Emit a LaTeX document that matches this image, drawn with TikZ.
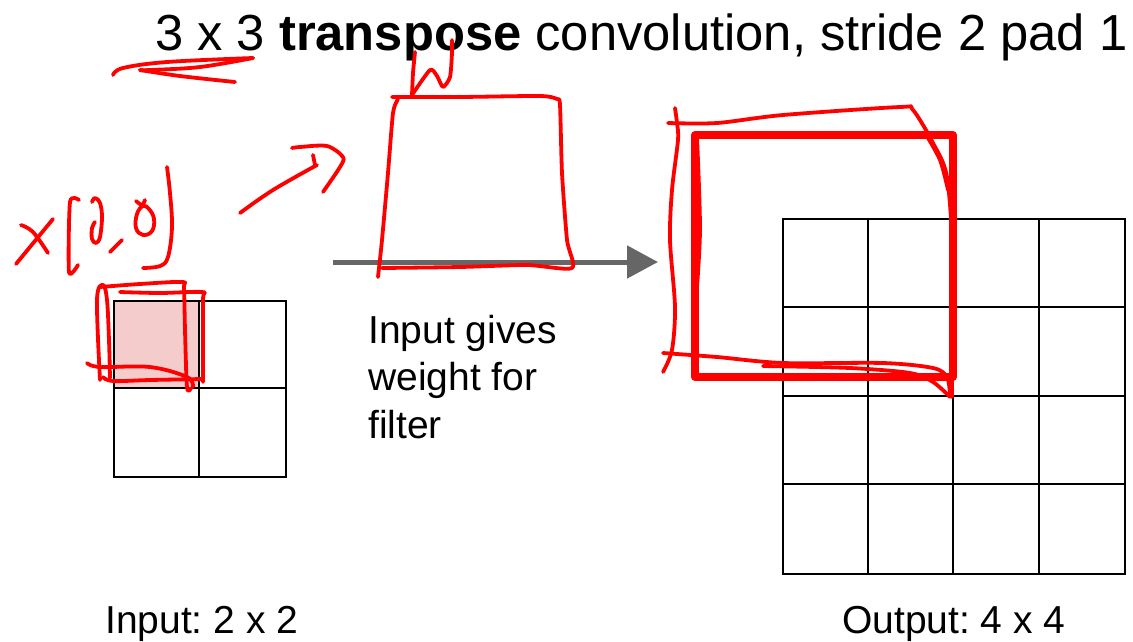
\documentclass[tikz,border=0pt]{standalone}
\usepackage{fontspec}
\setmainfont{Liberation Sans}
\usetikzlibrary{arrows.meta}
\definecolor{pinkfill}{RGB}{244,204,204}
\definecolor{arrowgray}{RGB}{102,102,102}
\frenchspacing
\begin{document}
\begin{tikzpicture}[x=1pt,y=-1pt,
  gridline/.style={draw=black,line width=2pt},
  gridbox/.style={draw=black,line width=2pt,inner sep=0pt,anchor=north west},
  ink/.style={draw=red,line width=3.8pt,line cap=round,line join=round},
  thickink/.style={draw=red,line width=8pt,line join=round},
  lbl/.style={font=\fontsize{39}{47.5}\selectfont,inner sep=0pt,text=black},
  flow/.style={draw=arrowgray,line width=5pt,-{Triangle[length=31pt,width=32pt]}}]
\useasboundingbox[fill=white] (0,0) rectangle (1133,641);

% title
\node[anchor=base west,inner sep=0pt,font=\fontsize{50.7}{60}\selectfont] (title) at (155,50)
  {3 x 3 \textbf{transpose} convolution, stride 2 pad 1};

% input grid 2x2
\fill[pinkfill] (113,300) rectangle (199,387.5);
\node[gridbox,minimum width=172pt,minimum height=176pt] (ingrid) at (113,300) {};
\draw[gridline] (199,300) -- (199,476);
\draw[gridline] (113,387.5) -- (285,387.5);

% output grid 4x4
\node[gridbox,minimum width=342pt,minimum height=355pt] (outgrid) at (782,218) {};
\foreach \i in {1,2,3}{
  \draw[gridline] ({782+85.5*\i},218) -- ({782+85.5*\i},573);
  \draw[gridline] (782,{218+88.75*\i}) -- (1124,{218+88.75*\i});
}

% arrow
\coordinate (astart) at (333,262);
\coordinate (aend) at (658,262);
\draw[flow] (astart) -- (aend);

% labels
\node[lbl,anchor=north west,align=left] (desc) at (368,315) {Input gives\\weight for\\filter};
\node[lbl,anchor=base west] (inlab) at (105,633) {Input: 2 x 2};
\node[lbl,anchor=base west] (outlab) at (842,633) {Output: 4 x 4};

% thick red filter window
\draw[thickink] (695,135) rectangle (953,377);

% handwritten red annotations
% underline under 3 x 3
\draw[ink] plot[smooth,tension=0.6] coordinates {(113,75) (123,68) (167,62) (253,58)};
\draw[ink] plot[smooth,tension=0.6] coordinates {(253,58) (200,67) (150,70) (140,70)};
\draw[ink] plot[smooth,tension=0.6] coordinates {(140,70) (180,76) (235,82)};
% x[0,0]
\draw[ink] (16,264) -- (53,219);
\draw[ink] plot[smooth,tension=0.6] coordinates {(21,225) (33,232) (48,253)};
\draw[ink] plot[smooth,tension=0.4] coordinates {(79,200) (70,202) (69,272) (78,265)};
\draw[ink] plot[smooth,tension=0.6] coordinates {(92,202) (95,198) (100,203) (102,217) (100,237) (96,243) (92,239) (92,228) (95,222)};
\draw[ink] (110,252) -- (122,240);
\draw[ink] plot[smooth cycle,tension=0.7] coordinates {(143,206) (137,214) (136,228) (143,235) (152,231) (154,219) (149,209)};
\draw[ink] plot[smooth,tension=0.5] coordinates {(136,201) (142,205) (145,200)};
\draw[ink] plot[smooth,tension=0.6] coordinates {(167,167) (170,193) (172,227) (168,257) (160,266) (143,268)};
% curved arrow
\draw[ink] plot[smooth,tension=0.6] coordinates {(240,213) (273,190) (317,165)};
\draw[ink] plot[smooth,tension=0.5] coordinates {(292,148) (300,147) (327,146) (343,157) (340,167) (323,192)};
\draw[ink] (313,155) -- (315,165);
% scribble around input cell
\draw[ink] plot[smooth,tension=0.6] coordinates {(100,380) (97,300) (103,285) (107,300) (109,340) (110,378)};
\draw[ink] plot[smooth,tension=0.5] coordinates {(100,287) (140,284) (182,282) (184,288) (185,330) (187,387) (191,388)};
\draw[ink] plot[smooth,tension=0.5] coordinates {(120,292) (160,293) (202,292) (203,298) (203,337) (203,382)};
\draw[ink] plot[smooth,tension=0.6] coordinates {(87,363) (100,367) (150,367) (187,377) (193,387)};
\draw[ink] plot[smooth,tension=0.6] coordinates {(103,377) (113,381) (150,380) (203,379)};
% W
\draw[ink] plot[smooth,tension=0.3] coordinates {(415,52) (413,73) (412,95)};
\draw[ink] plot[smooth,tension=0.4] coordinates {(412,95) (430,70) (437,76) (443,87) (450,77) (452,53) (452,40)};
% trapezoid (filter)
\draw[ink] plot[smooth,tension=0.4] coordinates {(392,97) (460,97) (540,96) (557,99) (560,105) (562,173) (567,240) (572,268) (527,265) (460,267) (382,268)};
\draw[ink] plot[smooth,tension=0.4] coordinates {(398,99) (393,113) (388,173) (382,240) (378,277)};
% scribble around output window
\draw[ink] plot[smooth,tension=0.5] coordinates {(668,123) (717,123) (783,115) (900,107) (913,110) (933,143) (947,177) (953,257) (952,323) (952,397)};
\draw[ink] plot[smooth,tension=0.5] coordinates {(925,133) (940,160) (948,190)};
\draw[ink] plot[smooth,tension=0.5] coordinates {(675,108) (677,123) (678,140) (672,190) (670,240) (675,307) (672,350) (663,372)};
\draw[ink] plot[smooth,tension=0.5] coordinates {(663,353) (717,357) (783,363) (883,363) (933,368) (947,377) (950,395)};
\draw[ink] plot[smooth,tension=0.5] coordinates {(763,366) (850,368) (910,373) (933,382) (950,397)};
\draw[ink] plot[smooth,tension=0.5] coordinates {(697,137) (700,230) (696,300)};
\end{tikzpicture}
\end{document}
